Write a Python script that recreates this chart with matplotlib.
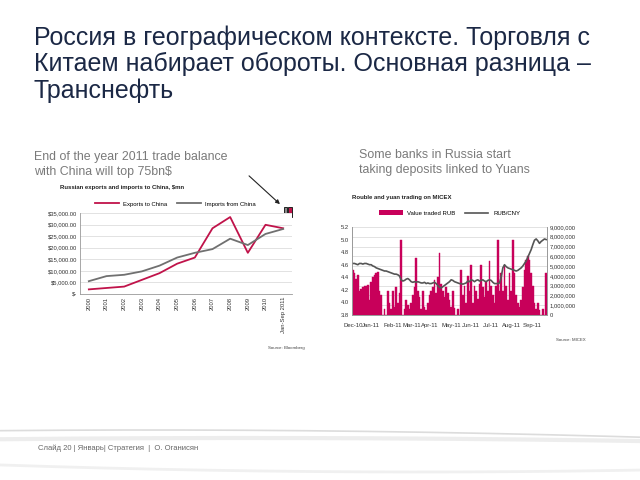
import matplotlib
matplotlib.use("Agg")
import matplotlib.pyplot as plt
from matplotlib.patches import Rectangle, Patch
from matplotlib.lines import Line2D
import numpy as np

# ---------------- data ----------------
years = ["2000", "2001", "2002", "2003", "2004", "2005", "2006", "2007",
         "2008", "2009", "2010", "Jan-Sep 2011"]
exports_to_china = [2000, 2600, 3200, 6100, 9000, 13100, 15750, 28400,
                    33250, 17800, 29900, 28400]
imports_from_china = [5540, 7730, 8300, 9770, 12250, 15750, 17800, 19400,
                      23900, 21150, 25950, 28100]
left_yticks = [0, 5000, 10000, 15000, 20000, 25000, 30000, 35000]

value_traded_rub = [
    4.6, 4.3, 3.7, 4.1, 2.5, 2.7, 2.9, 3.0, 3.0, 3.1, 1.5, 3.4,
    3.9, 4.1, 4.3, 4.4, 2.5, 2.0,
    0, 0.6, 0, 2.5, 1.2, 0.6,
    2.5, 0.8, 2.9, 1.2, 2.2,
    7.7, 0,
    0.6, 1.5, 1.0,
    0.6, 1.2, 2.0,
    2.9, 5.8, 2.5, 1.8, 0.6,
    2.5, 0.8, 0.5, 1.2, 2.0, 2.5,
    2.9, 3.6, 2.2,
    3.9, 6.3, 3.2,
    2.5, 1.8, 2.9,
    2.2, 1.5, 0.8, 2.5,
    0.7, 0, 0.6, 0, 4.6,
    2.0, 3.0, 1.2, 4.0, 2.5,
    5.1, 1.2, 3.0, 2.5, 1.6, 3.2,
    5.1, 2.9, 1.8, 3.4, 2.5, 5.5, 3.0,
    2.0, 1.2, 3.0, 7.7, 2.5,
    4.3, 2.5,
    5.0, 3.0, 1.5,
    4.3, 2.5, 7.7, 4.3, 2.0, 1.2, 0.8,
    1.5, 2.9, 4.6,
    5.6, 6.0, 5.6,
    4.3, 3.0, 1.2,
    0.6, 1.2,
    0.5, 0,
    0.6, 0, 4.3,
]  # millions RUB
rub_cny = [
    4.62, 4.62, 4.61, 4.60, 4.62, 4.62, 4.61, 4.62, 4.62, 4.61, 4.60, 4.60,
    4.58, 4.57, 4.55, 4.54, 4.53, 4.52,
    4.51, 4.50, 4.50, 4.49, 4.48, 4.47,
    4.46, 4.45, 4.45, 4.44, 4.42,
    4.36, 4.34,
    4.35, 4.37, 4.38,
    4.36, 4.33, 4.32,
    4.33, 4.32, 4.33, 4.32, 4.31,
    4.31, 4.32, 4.30, 4.31, 4.30, 4.30,
    4.31, 4.32, 4.30,
    4.27, 4.24, 4.23,
    4.25, 4.27, 4.29,
    4.31, 4.33, 4.36, 4.35,
    4.33, 4.32, 4.31, 4.30, 4.30,
    4.29, 4.30, 4.31, 4.34, 4.33,
    4.36, 4.35, 4.33, 4.35, 4.36, 4.34,
    4.35, 4.36, 4.34, 4.33, 4.35, 4.36, 4.35,
    4.32, 4.30, 4.30, 4.30, 4.31,
    4.40, 4.55,
    4.60, 4.57, 4.55,
    4.54, 4.53, 4.52, 4.51, 4.50, 4.51, 4.53,
    4.55, 4.58, 4.62,
    4.66, 4.72, 4.78,
    4.84, 4.92, 4.99,
    5.01, 4.98,
    4.94, 4.97,
    4.99, 5.01, 5.00,
]
month_labels = ["Dec-10", "Jan-11", "Feb-11", "Mar-11", "Apr-11", "May-11",
                "Jun-11", "Jul-11", "Aug-11", "Sep-11"]
month_start_sample = [0, 11, 24, 35.4, 46.4, 59, 71, 83, 95, 107.5]
rub_cny_ticks = [3.8, 4.0, 4.2, 4.4, 4.6, 4.8, 5.0, 5.2]
value_ticks = [0, 1, 2, 3, 4, 5, 6, 7, 8, 9]  # millions

# ---------------- style ----------------
plt.rcParams['font.family'] = ['Liberation Sans', 'DejaVu Sans']
W, H = 640, 480
fig = plt.figure(figsize=(6.4, 4.8), dpi=100)
fig.patch.set_facecolor("white")

def fx(px):
    return px / W

def fy(py):
    return 1 - py / H

RED = "#c0134a"
MAGENTA = "#c8005a"
GRAY = "#707070"
DARK = "#555555"

# decorative swoosh at bottom
bg = fig.add_axes([0, 0, 1, 1], zorder=-5)
bg.set_xlim(0, W); bg.set_ylim(H, 0); bg.axis("off")
xs = np.linspace(0, W, 200)
bg.plot(xs, 430 + 0.00003 * (xs - 150) ** 2, color="#dcdcdc", lw=1.2)
bg.plot(xs, 438 + 0.00002 * (xs - 250) ** 2, color="#ededed", lw=3)
bg.plot(xs, 472 - 0.00004 * (xs - 420) ** 2, color="#f0f0f0", lw=2)

# Title
fig.text(fx(34), fy(25), "Россия в географическом контексте. Торговля с\n"
         "Китаем набирает обороты. Основная разница –\nТранснефть",
         fontsize=18, color="#1b2845", va="top", ha="left", linespacing=1.12,
         multialignment="left")

# Sub headings
fig.text(fx(34), fy(151), "End of the year 2011 trade balance\nwith China will top 75bn$",
         fontsize=8.9, color="#7a7a7a", va="top", ha="left", linespacing=1.3,
         multialignment="left")
fig.text(fx(359), fy(149), "Some banks in Russia start\ntaking deposits linked to Yuans",
         fontsize=8.9, color="#7a7a7a", va="top", ha="left", linespacing=1.3,
         multialignment="left")

# Footer
fig.text(fx(38), fy(448), "Слайд 20 | Январь| Стратегия  |  О. Оганисян",
         fontsize=5.5, color="#666666", va="center", ha="left")

# ---------------- left chart ----------------
ax1 = fig.add_axes([fx(80), fy(294), fx(292) - fx(80), (294 - 213) / H])
x = np.arange(len(years))
ax1.plot(x, exports_to_china, color=RED, lw=1.3, label="Exports to China")
ax1.plot(x, imports_from_china, color=GRAY, lw=1.3, label="Imports from China")
ax1.set_xlim(-0.5, len(years) - 0.5)
ax1.set_ylim(0, 35000)
ax1.set_yticks(left_yticks)
ax1.set_yticklabels(["$-" if v == 0 else f"${v:,.2f}" for v in left_yticks])
ax1.set_xticks(x)
ax1.set_xticklabels(years, rotation=90)
ax1.tick_params(labelsize=4.2, length=0, pad=2, colors="#333333")
ax1.grid(axis="y", color="#dddddd", lw=0.6)
ax1.set_axisbelow(True)
for s in ["top", "right"]:
    ax1.spines[s].set_visible(False)
ax1.spines["left"].set_color("#999999")
ax1.spines["bottom"].set_color("#999999")
ax1.spines["left"].set_linewidth(0.6)
ax1.spines["bottom"].set_linewidth(0.6)
ax1.legend(loc="lower center", bbox_to_anchor=(0.45, 1.05), ncol=2, frameon=False,
           fontsize=4.3, handlelength=4, columnspacing=1.5, borderaxespad=0)
fig.text(fx(60), fy(188), "Russian exports and imports to China, $mn",
         fontsize=4.3, fontweight="bold", color="#222222", va="center")
fig.text(fx(268), fy(348), "Source: Bloomberg", fontsize=3.2, color="#444444", va="center")

# arrow and icon
bg.annotate("", xy=(282, 206), xytext=(247, 174),
            arrowprops=dict(arrowstyle="-|>", color="#222222", lw=0.8,
                            mutation_scale=6))
bg.add_patch(Rectangle((283.5, 207), 3.5, 10, facecolor="#888888",
                       edgecolor="#222222", lw=0.7))
bg.add_patch(Rectangle((288, 207), 3.5, 10, facecolor=RED,
                       edgecolor="#222222", lw=0.7))

# ---------------- right chart ----------------
ax2 = fig.add_axes([fx(352), fy(315), fx(547) - fx(352), (315 - 227) / H])
n = len(value_traded_rub)
idx = np.arange(n)
ax2.bar(idx, np.array(value_traded_rub) * 1e6, width=1.0, color=MAGENTA,
        linewidth=0.3, edgecolor=MAGENTA, label="Value traded RUB")
ax2.set_ylim(0, 9e6)
ax2.set_xlim(-0.5, n - 0.5)
ax2.set_yticks([v * 1e6 for v in value_ticks])
ax2.set_yticklabels([f"{int(v * 1e6):,}" for v in value_ticks])
ax2.set_xticks(month_start_sample)
ax2.set_xticklabels(month_labels)
ax2.grid(axis="y", color="#dddddd", lw=0.6)
ax2.set_axisbelow(True)

ax3 = ax2.twinx()
ax3.plot(idx, rub_cny, color=DARK, lw=1.2, label="RUB/CNY")
ax3.set_ylim(3.8, 5.2)
ax3.set_yticks(rub_cny_ticks)
ax3.set_yticklabels([f"{v:.1f}" for v in rub_cny_ticks])
# swap sides: value axis on the right, rate axis on the left
ax2.yaxis.tick_right()
ax3.yaxis.tick_left()
ax2.tick_params(axis="y", labelsize=4.2, length=0, pad=2, colors="#333333")
ax2.tick_params(axis="x", labelsize=4.3, length=0, pad=6, colors="#333333")
ax3.tick_params(labelsize=4.2, length=0, pad=2, colors="#333333")
for a in (ax2, ax3):
    a.spines["top"].set_visible(False)
    for s in ["left", "right", "bottom"]:
        a.spines[s].set_color("#999999")
        a.spines[s].set_linewidth(0.6)

handles = [Patch(facecolor=MAGENTA, edgecolor="none"),
           Line2D([0], [0], color=DARK, lw=1.2)]
ax2.legend(handles, ["Value traded RUB", "RUB/CNY"], loc="lower center",
           bbox_to_anchor=(0.5, 1.1), ncol=2, frameon=False, fontsize=4.3,
           handlelength=4, handleheight=0.8, columnspacing=1.5, borderaxespad=0)
fig.text(fx(352), fy(197), "Rouble and yuan trading on MICEX",
         fontsize=4.3, fontweight="bold", color="#222222", va="center")
fig.text(fx(556), fy(340), "Source: MICEX", fontsize=3.2, color="#444444", va="center")

fig.savefig("out.png", dpi=100)
